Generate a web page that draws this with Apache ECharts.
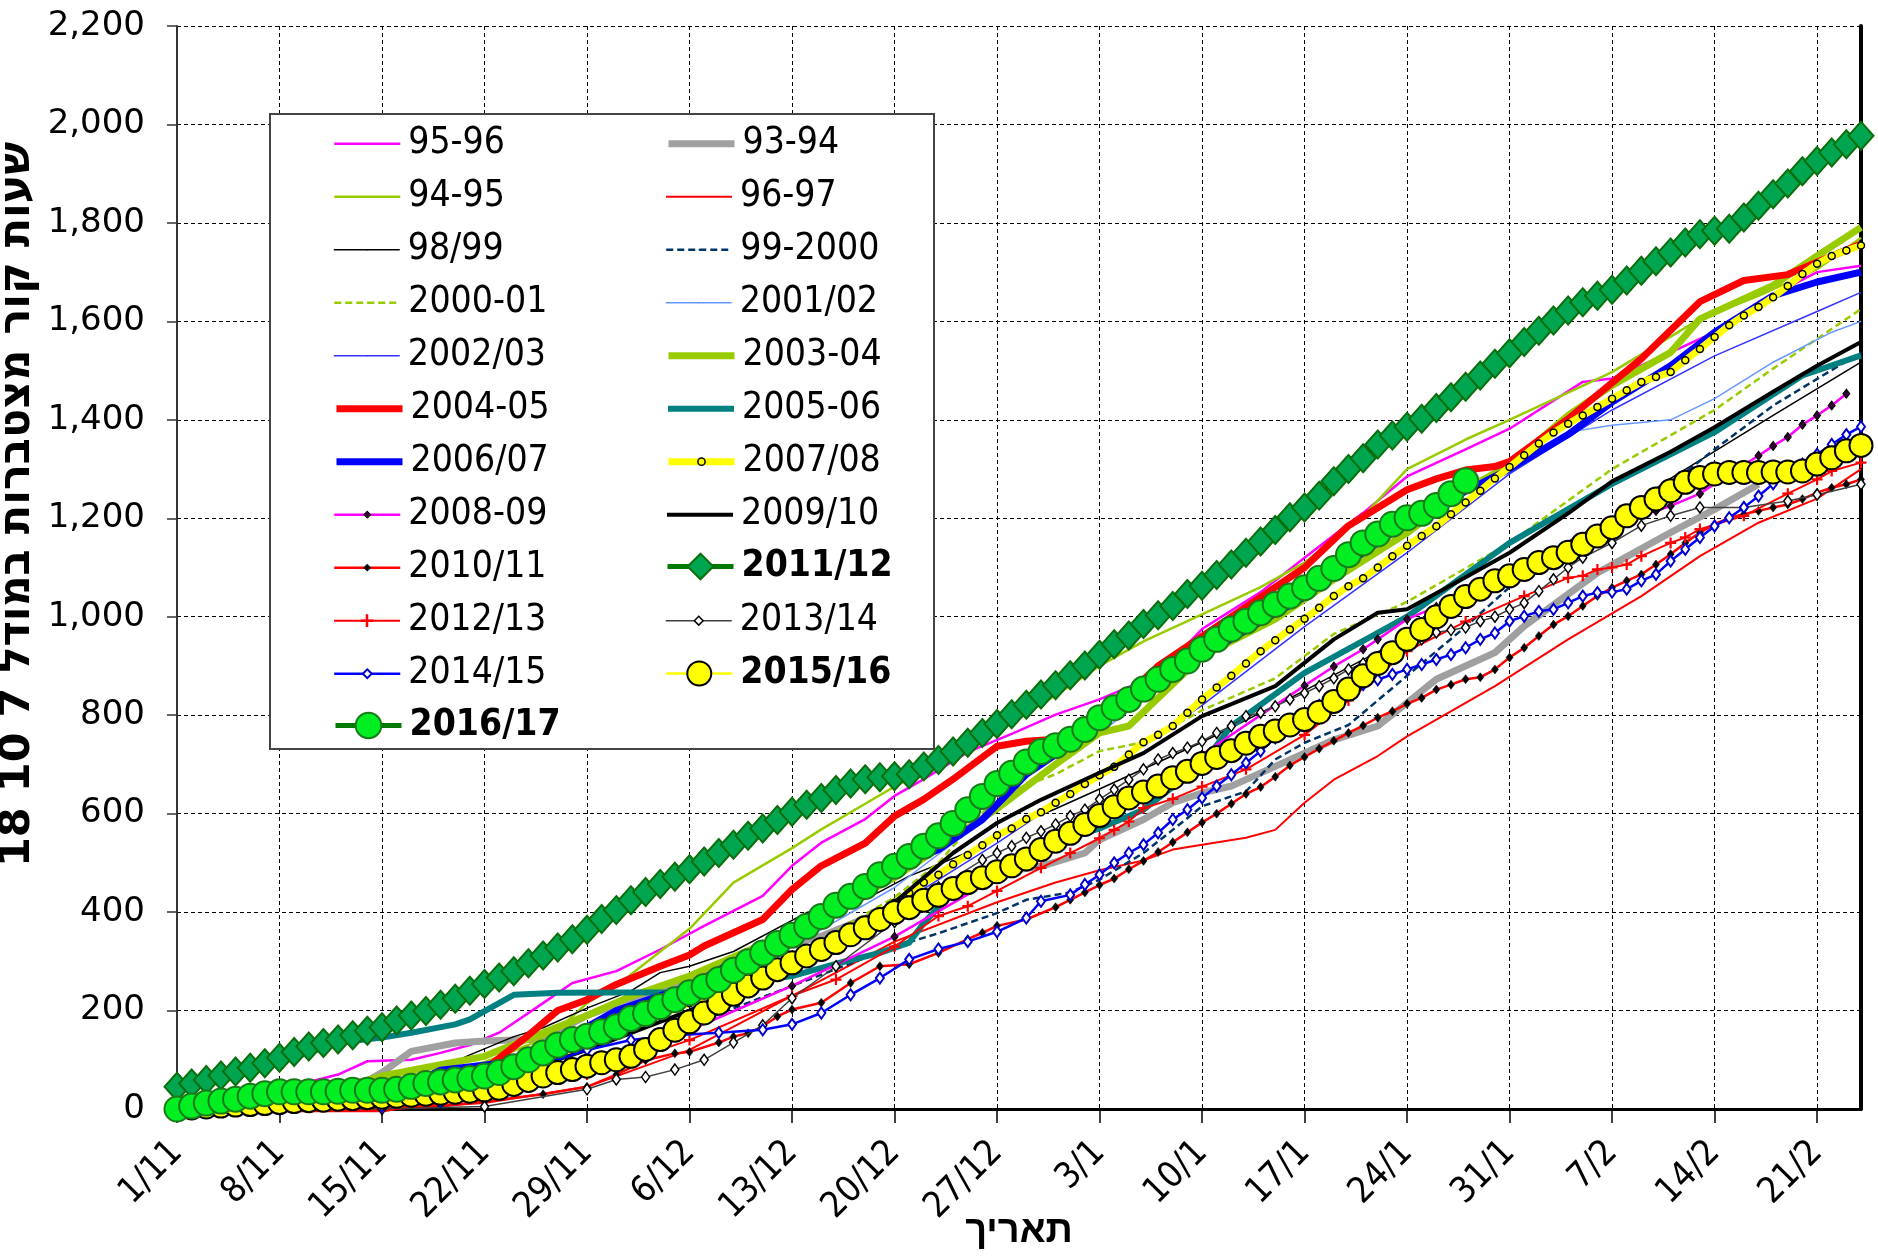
<!DOCTYPE html>
<html><head><meta charset="utf-8">
<script src="https://cdn.jsdelivr.net/npm/echarts/dist/echarts.min.js"></script>
<style>html,body{margin:0;padding:0;background:#fff}#c{width:1878px;height:1259px}</style>
</head><body><div id="c"></div><script>
// ---------------- DATA ----------------
const TICK_LABELS = ['1/11','8/11','15/11','22/11','29/11','6/12','13/12','20/12','27/12','3/1','10/1','17/1','24/1','31/1','7/2','14/2','21/2'];
const LAST_DAY = 115; // 24/2

const S9596 = [[0,0],[4,15],[7,30],[9,55],[11,70],[13,97],[16,100],[18,114],[20,130],[22,155],[25,215],[27,256],[30,280],[33,324],[36,372],[40,433],[42,494],[44,541],[47,589],[49,636],[51,670],[54,725],[57,762],[60,801],[63,832],[66,870],[68,913],[70,975],[74,1050],[77,1120],[81,1211],[84,1285],[88,1340],[91,1382],[96,1477],[98,1484],[102,1537],[105,1578],[108,1639],[112,1700],[115,1713]];
const S9394 = [[0,0],[7,10],[12,40],[14,74],[16,117],[19,134],[21,138],[25,142],[28,190],[35,265],[42,335],[44,351],[49,412],[51,439],[56,480],[59,493],[62,520],[63,547],[66,588],[68,622],[70,642],[72,656],[75,696],[77,723],[79,750],[82,778],[84,825],[86,873],[90,927],[92,981],[97,1089],[102,1171],[105,1218],[108,1269]];
const S9495 = [[0,0],[7,20],[14,45],[21,95],[24,130],[26,161],[28,215],[30,250],[33,320],[35,366],[38,460],[42,530],[44,568],[47,620],[49,655],[52,700],[56,770],[60,840],[63,900],[66,950],[70,1005],[74,1060],[77,1110],[81,1204],[84,1300],[88,1360],[91,1400],[98,1497],[104,1605],[108,1652],[112,1706],[115,1770]];
const S9697 = [[0,0],[14,0],[21,12],[28,45],[35,120],[42,230],[49,340],[56,420],[60,460],[63,485],[66,505],[68,527],[70,537],[73,551],[75,567],[77,622],[79,669],[82,717],[84,757],[86,791],[90,859],[95,954],[100,1042],[104,1123],[108,1191],[112,1240],[115,1300]];
const S9899 = [[0,0],[7,5],[12,20],[14,40],[17,70],[20,110],[23,147],[25,165],[28,205],[31,240],[33,277],[35,290],[38,320],[43,399],[47,426],[50,473],[54,521],[56,561],[60,610],[63,650],[70,745],[77,850],[84,960],[91,1090],[98,1200],[102,1281],[109,1409],[115,1517]];
const S9900 = [[0,0],[7,0],[14,5],[21,30],[28,90],[35,170],[42,250],[49,330],[52,357],[56,398],[58,425],[61,440],[63,466],[66,520],[68,567],[70,615],[73,645],[75,710],[77,744],[80,780],[84,880],[88,980],[91,1060],[95,1140],[98,1200],[102,1270],[105,1340],[109,1429],[115,1537]];
const S0001 = [[0,0],[7,5],[14,25],[21,70],[28,140],[35,215],[42,310],[49,430],[52,500],[56,635],[60,680],[63,727],[66,745],[70,810],[75,875],[79,965],[84,1030],[91,1150],[98,1300],[105,1420],[109,1504],[115,1625]];
const S0102 = [[0,0],[7,10],[14,35],[21,80],[28,150],[35,235],[42,330],[49,450],[53,540],[56,610],[61,717],[66,832],[70,920],[75,1001],[79,1079],[84,1190],[91,1300],[95,1375],[98,1389],[102,1400],[105,1443],[109,1517],[113,1578],[115,1600]];
const S0203 = [[0,0],[7,10],[14,30],[21,70],[28,140],[35,220],[42,300],[49,410],[56,540],[63,680],[70,820],[77,980],[84,1130],[91,1290],[98,1420],[105,1530],[112,1620],[115,1659]];
const S0304 = [[0,0],[7,10],[14,67],[18,90],[21,107],[25,155],[28,190],[31,229],[35,270],[42,360],[49,470],[56,610],[60,700],[63,764],[65,778],[70,920],[75,995],[79,1076],[84,1170],[88,1259],[91,1308],[95,1409],[98,1470],[102,1537],[104,1605],[109,1673],[112,1733],[115,1791]];
const S0405 = [[0,0],[14,0],[16,10],[18,35],[21,80],[24,150],[26,200],[28,222],[30,253],[33,290],[35,313],[36,331],[40,385],[42,446],[44,494],[47,540],[49,595],[51,629],[53,670],[56,737],[58,747],[60,751],[63,790],[67,900],[70,960],[74,1040],[77,1100],[80,1185],[84,1258],[86,1280],[88,1298],[90,1305],[91,1315],[95,1402],[100,1524],[104,1640],[107,1683],[110,1695],[112,1720],[115,1757]];
const S0506 = [[0,40],[7,95],[11,135],[14,145],[16,155],[19,172],[20,182],[23,232],[26,236],[34,237],[38,255],[42,270],[45,295],[48,317],[50,338],[51,378],[53,440],[56,480],[58,520],[63,570],[66,608],[70,700],[72,778],[77,886],[82,967],[84,1000],[91,1150],[98,1270],[105,1375],[111,1490],[115,1531]];
const S0607 = [[0,0],[7,5],[14,20],[18,79],[23,96],[27,150],[30,200],[35,250],[40,331],[43,372],[46,430],[49,490],[52,527],[55,588],[58,680],[60,720],[63,780],[66,840],[70,920],[74,990],[77,1040],[80,1110],[84,1190],[88,1255],[91,1300],[95,1370],[98,1436],[102,1510],[105,1578],[109,1652],[112,1680],[115,1700]];
const S0708 = [[0,0],[7,5],[14,20],[21,55],[28,135],[35,215],[38,250],[39,262],[40,272],[41,287],[42,300],[43,314],[44,327],[45,342],[46,361],[47,378],[48,399],[49,419],[50,439],[51,460],[52,476],[53,497],[54,516],[55,536],[56,556],[57,570],[58,589],[59,603],[60,622],[61,640],[62,660],[63,678],[64,695],[65,720],[66,745],[67,760],[68,778],[69,805],[70,832],[71,856],[72,880],[73,905],[74,930],[75,952],[76,974],[77,996],[78,1018],[79,1042],[80,1062],[81,1078],[82,1100],[83,1123],[84,1144],[85,1164],[86,1184],[87,1208],[88,1232],[89,1256],[90,1281],[91,1304],[92,1328],[93,1352],[94,1374],[95,1392],[96,1409],[97,1426],[98,1443],[99,1460],[100,1477],[101,1487],[102,1497],[103,1521],[104,1544],[105,1568],[106,1592],[107,1612],[108,1629],[109,1649],[110,1672],[111,1696],[112,1717],[113,1733],[114,1744],[115,1754]];
const S0809 = [[0,0],[7,5],[14,15],[21,40],[28,100],[35,160],[42,250],[49,350],[56,470],[63,600],[70,720],[77,860],[79,899],[81,934],[82,954],[84,995],[86,1020],[88,1045],[90,1070],[91,1080],[93,1110],[95,1140],[97,1170],[99,1200],[101,1215],[102,1225],[104,1250],[106,1290],[108,1327],[109,1347],[110,1365],[111,1390],[112,1409],[113,1429],[114,1453]];
const S0910 = [[0,0],[7,3],[14,15],[21,50],[28,120],[35,200],[42,300],[49,420],[53,520],[56,581],[59,628],[63,683],[66,723],[70,798],[75,859],[79,954],[82,1008],[84,1015],[88,1080],[91,1130],[95,1210],[98,1275],[102,1335],[105,1385],[109,1457],[112,1510],[115,1558]];
const S1011 = [[0,0],[14,0],[18,5],[21,15],[25,30],[28,45],[30,70],[32,99],[34,113],[35,116],[37,135],[38,147],[39,154],[40,168],[41,188],[42,202],[44,216],[46,256],[48,290],[50,294],[52,317],[54,345],[55,358],[56,372],[58,385],[60,410],[61,425],[62,440],[63,455],[64,468],[65,487],[66,504],[67,522],[68,542],[69,562],[70,582],[71,600],[72,620],[73,640],[74,654],[75,675],[76,698],[77,715],[78,732],[79,748],[80,764],[81,779],[82,795],[83,808],[84,823],[85,835],[86,852],[87,862],[88,873],[89,877],[90,893],[91,917],[92,937],[93,961],[94,984],[95,1001],[96,1022],[97,1042],[98,1059],[99,1073],[100,1086],[101,1106],[102,1127],[103,1150],[104,1171],[105,1188],[106,1201],[107,1208],[108,1215],[109,1222],[110,1228],[111,1239],[112,1252],[113,1262],[114,1269],[115,1279]];
const V1112 = [45,52,59,68,76,84,93,104,116,127,134,141,150,159,166,180,190,199,212,224,240,254,267,280,296,312,328,345,364,386,404,424,441,457,472,487,503,520,537,555,570,587,604,618,632,648,661,670,674,676,680,696,709,726,744,764,782,802,821,842,861,881,901,923,944,962,985,1003,1022,1046,1063,1085,1106,1130,1153,1176,1202,1222,1246,1275,1300,1322,1350,1368,1386,1402,1424,1446,1467,1490,1514,1535,1558,1581,1602,1622,1639,1652,1664,1683,1703,1722,1740,1760,1777,1784,1788,1811,1835,1858,1880,1905,1926,1943,1960,1977];
const S1213 = [[0,0],[14,0],[21,20],[28,70],[35,140],[42,230],[45,263],[49,330],[52,392],[54,412],[56,443],[59,490],[61,520],[63,550],[64,567],[65,584],[66,611],[68,630],[70,655],[73,690],[77,760],[80,830],[84,930],[88,990],[92,1042],[95,1079],[96,1083],[97,1096],[98,1100],[99,1106],[100,1123],[102,1150],[103,1161],[104,1178],[107,1205],[110,1250],[112,1279],[113,1296],[115,1313]];
const S1314 = [[0,0],[14,0],[21,5],[28,40],[30,60],[32,65],[34,80],[36,100],[38,135],[40,170],[42,225],[45,290],[49,380],[52,450],[55,506],[56,520],[57,534],[58,551],[59,564],[60,578],[61,595],[62,608],[63,629],[64,649],[65,669],[66,690],[67,710],[68,723],[69,734],[70,747],[71,764],[72,778],[73,798],[74,805],[75,818],[76,832],[77,845],[78,859],[79,875],[80,893],[81,905],[82,913],[83,928],[84,940],[85,954],[86,968],[87,973],[88,978],[89,991],[90,1000],[91,1015],[92,1028],[93,1052],[94,1076],[95,1100],[96,1120],[98,1150],[100,1185],[102,1205],[104,1222],[107,1222],[110,1235],[112,1248],[115,1269]];
const S1415 = [[0,0],[7,0],[14,5],[18,15],[21,40],[25,90],[28,120],[31,140],[34,150],[37,155],[40,161],[42,172],[44,195],[46,232],[48,266],[50,304],[52,325],[54,340],[56,360],[58,388],[59,422],[61,435],[62,456],[63,476],[64,500],[65,520],[66,537],[67,561],[68,588],[69,608],[70,632],[71,656],[72,679],[73,703],[74,727],[75,754],[76,775],[77,800],[78,820],[79,835],[80,850],[81,862],[82,872],[83,883],[84,893],[85,903],[86,913],[87,923],[88,937],[89,954],[90,967],[91,991],[92,1001],[93,1011],[94,1015],[95,1028],[96,1042],[97,1049],[98,1050],[99,1056],[100,1073],[101,1086],[102,1113],[103,1137],[104,1161],[105,1184],[106,1201],[107,1222],[108,1245],[109,1270],[110,1290],[111,1310],[112,1330],[113,1350],[114,1370],[115,1386]];
const V1516 = [0,2,4,6,8,9,11,13,15,17,18,20,21,23,24,26,28,30,32,34,36,39,42,50,58,67,74,80,87,94,100,107,121,141,160,177,195,215,233,250,266,283,297,311,324,338,354,368,385,399,409,424,434,448,460,470,482,494,508,527,544,560,578,596,614,632,644,656,673,686,702,714,728,743,757,768,780,791,806,828,853,880,905,927,954,974,1000,1021,1041,1056,1073,1083,1096,1110,1120,1131,1147,1164,1181,1205,1222,1239,1256,1273,1283,1290,1293,1293,1293,1294,1294,1296,1310,1323,1337,1348];
const V1617 = [0,6,12,16,20,26,31,35,35,35,35,36,38,38,38,40,46,52,55,59,62,67,74,86,100,114,130,141,148,157,167,184,194,208,222,236,249,263,282,299,317,336,353,371,391,414,432,452,476,493,513,534,555,580,608,635,661,682,705,726,738,751,771,795,815,832,853,873,893,910,934,954,975,991,1008,1025,1042,1059,1078,1098,1126,1150,1168,1188,1201,1210,1226,1250,1276];

const daily = arr => arr.map((v, i) => [i, v]);
const PLUS = 'path://M4,0H6V4H10V6H6V10H4V6H0V4H4Z';

// ---------------- STYLES ----------------
const SERIES = [
  {name:'95-96', data:S9596, c:'#FF00FF', w:2.5, col:0, row:0},
  {name:'93-94', data:S9394, c:'#A0A0A0', w:7, col:1, row:0},
  {name:'94-95', data:S9495, c:'#99CC00', w:2.5, col:0, row:1},
  {name:'96-97', data:S9697, c:'#FF0000', w:2, col:1, row:1},
  {name:'98/99', data:S9899, c:'#000000', w:1.5, col:0, row:2},
  {name:'99-2000', data:S9900, c:'#003366', w:2.5, dash:[7,4], col:1, row:2},
  {name:'2000-01', data:S0001, c:'#99CC00', w:2.5, dash:[7,4], col:0, row:3},
  {name:'2001/02', data:S0102, c:'#6699FF', w:1.5, col:1, row:3},
  {name:'2002/03', data:S0203, c:'#3333FF', w:1.5, col:0, row:4},
  {name:'2003-04', data:S0304, c:'#99CC00', w:7, col:1, row:4},
  {name:'2004-05', data:S0405, c:'#FF0000', w:7, col:0, row:5},
  {name:'2005-06', data:S0506, c:'#008080', w:6, col:1, row:5},
  {name:'2006/07', data:S0607, c:'#0000FF', w:7, col:0, row:6},
  {name:'2007/08', data:S0708, c:'#FFFF00', w:7, sym:'circle', ss:7, fill:'#FFFF00', bc:'#000000', bw:1.5, col:1, row:6, lh:9},
  {name:'2008-09', data:S0809, c:'#FF00FF', w:2.5, sym:'diamond', ss:[7,9], fill:'#330033', bc:'#000000', bw:1, col:0, row:7, lh:9},
  {name:'2009/10', data:S0910, c:'#000000', w:4, col:1, row:7},
  {name:'2010/11', data:S1011, c:'#FF0000', w:2.5, sym:'diamond', ss:[7,9], fill:'#000000', bc:'#000000', bw:0.5, col:0, row:8, lh:9},
  {name:'2011/12', data:daily(V1112), c:'#007A00', w:5, sym:'diamond', ss:[25,28], fill:'#00A550', bc:'#0B6E0B', bw:2, col:1, row:8, lh:32, bold:true},
  {name:'2012/13', data:S1213, c:'#FF0000', w:2, sym:PLUS, ss:11, fill:'#FF0000', bc:'#FF0000', bw:0, col:0, row:9, lh:16},
  {name:'2013/14', data:S1314, c:'#404040', w:1.5, sym:'diamond', ss:[8,11], fill:'#FFFFFF', bc:'#000000', bw:1.5, col:1, row:9, lh:11},
  {name:'2014/15', data:S1415, c:'#0000FF', w:2.5, sym:'diamond', ss:[8,11], fill:'#FFFFFF', bc:'#0000CC', bw:2, col:0, row:10, lh:11},
  {name:'2015/16', data:daily(V1516), c:'#FFFF00', w:2.5, sym:'circle', ss:23, fill:'#FFFF00', bc:'#000000', bw:2, col:1, row:10, lh:30, bold:true},
  {name:'2016/17', data:daily(V1617), c:'#007A00', w:5, sym:'circle', ss:25, fill:'#00EE22', bc:'#1A7A1A', bw:2, col:0, row:11, lh:32, bold:true}
];

const NARROW = "'Liberation Sans Narrow','DejaVu Sans Condensed','Liberation Sans',Arial,sans-serif";
const fmtThousands = v => String(v).replace(/\B(?=(\d{3})+(?!\d))/g, ',');

const series = SERIES.map((s, i) => ({
  type: 'line', name: s.name, data: s.data, z: 2 + i * 0.01,
  symbol: s.sym || 'none', showSymbol: !!s.sym, symbolSize: s.ss || 0,
  itemStyle: {color: s.fill || s.c, borderColor: s.bc || s.c, borderWidth: s.bw || 0},
  lineStyle: {color: s.c, width: s.w, type: s.dash || 'solid', join: 'round'},
  emphasis: {disabled: true}, silent: true, animation: false, clip: true
}));

const LEG_FONT = 37;
const LEG_X = [333, 665], LEG_Y0 = 140, LEG_DY = 53, LEG_TEXT_H = 28 * LEG_FONT / 35;
const legends = SERIES.map(s => {
  const h = s.lh || 2;
  return {
    left: LEG_X[s.col], top: LEG_Y0 + LEG_DY * s.row - Math.max(h, LEG_TEXT_H) / 2,
    itemWidth: 66, itemHeight: h, itemGap: 0, padding: 0, selectedMode: false, z: 6,
    data: [{name: s.name}],
    lineStyle: {width: s.w, type: s.dash || 'solid'},
    itemStyle: {borderWidth: s.bw || 0},
    textStyle: {fontFamily: NARROW, fontSize: LEG_FONT, color: '#000', fontWeight: s.bold ? 'bold' : 'normal', padding: [0,0,0,3]}
  };
});

const chart = echarts.init(document.getElementById('c'), null, {renderer: 'canvas'});
chart.setOption({
  animation: false,
  backgroundColor: '#fff',
  grid: {left: 177, right: 17, top: 26, bottom: 150, containLabel: false, outerBoundsMode: 'none'},
  xAxis: {
    type: 'value', min: 0, max: LAST_DAY, interval: 7,
    name: 'תאריך', nameLocation: 'middle', nameGap: 104, nameMoveOverlap: false,
    nameTextStyle: {fontFamily: "'Liberation Sans',Arial,sans-serif", fontSize: 38, fontWeight: 'bold', color: '#000'},
    axisLine: {show: true, onZero: false, lineStyle: {color: '#000', width: 3}},
    axisTick: {show: true, inside: false, length: 14, lineStyle: {color: '#000', width: 1.5}},
    axisLabel: {
      rotate: 45, margin: 38, fontFamily: NARROW, fontSize: 36, color: '#000', showMaxLabel: false, showMinLabel: true,
      formatter: v => (v % 7 === 0 ? TICK_LABELS[v / 7] : '')
    },
    splitLine: {show: true, lineStyle: {color: '#000', width: 1, type: [4, 3]}}
  },
  yAxis: [{
    type: 'value', min: 0, max: 2200, interval: 200,
    name: 'שעות קור מצטברות במודל 7 10 18', nameLocation: 'middle', nameGap: 138, nameRotate: 90, nameMoveOverlap: false,
    nameTextStyle: {fontFamily: "'DejaVu Sans',sans-serif", fontSize: 43, fontWeight: 'bold', color: '#000', padding: [0,0,0,126]},
    axisLine: {show: true, onZero: false, lineStyle: {color: '#333', width: 2}},
    axisTick: {show: true, inside: false, length: 10, lineStyle: {color: '#333', width: 1.5}},
    axisLabel: {margin: 32, fontFamily: "'DejaVu Sans',Verdana,sans-serif", fontSize: 34, color: '#000', formatter: fmtThousands},
    splitLine: {show: true, lineStyle: {color: '#000', width: 1, type: [4, 3]}}
  }, {
    type: 'value', min: 0, max: 2200, position: 'right',
    axisLine: {show: true, onZero: false, lineStyle: {color: '#000', width: 4}},
    axisTick: {show: false}, axisLabel: {show: false}, splitLine: {show: false}
  }],
  legend: legends,
  graphic: [{
    type: 'rect', z: 5, silent: true,
    shape: {x: 270, y: 114, width: 664, height: 635},
    style: {fill: '#fff', stroke: '#444', lineWidth: 2}
  }],
  series: series
});
</script></body></html>
